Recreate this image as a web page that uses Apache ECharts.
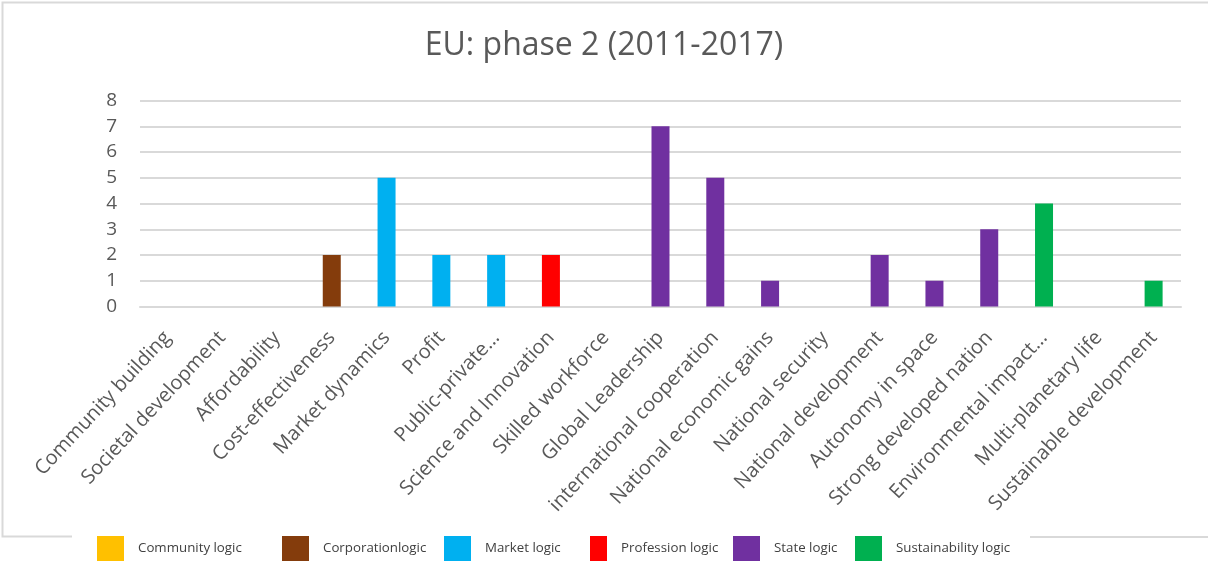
<!DOCTYPE html>
<html>
<head>
<meta charset="utf-8">
<title>EU: phase 2 (2011-2017)</title>
<script src="https://cdn.jsdelivr.net/npm/echarts@6/dist/echarts.min.js"></script>
<style>
  html, body { margin: 0; padding: 0; background: #ffffff; }
  #chart { width: 1208px; height: 561px; }
</style>
</head>
<body>
<div id="chart"></div>
<script>
// Categories along the x axis
const categories = [
  'Community building', 'Societal development', 'Affordability', 'Cost-effectiveness',
  'Market dynamics', 'Profit', 'Public-private…', 'Science and Innovation',
  'Skilled workforce', 'Global Leadership', 'international cooperation',
  'National economic gains', 'National security', 'National development',
  'Autonomy in space', 'Strong developed nation', 'Environmental impact…',
  'Multi-planetary life', 'Sustainable development'
];

// Count per category
const counts = [0, 0, 0, 2, 5, 2, 2, 2, 0, 7, 5, 1, 0, 2, 1, 3, 4, 0, 1];

// Institutional logic each category belongs to
const categoryLogic = [
  'Community logic', 'Community logic', 'Community logic', 'Corporationlogic',
  'Market logic', 'Market logic', 'Market logic', 'Profession logic',
  'Profession logic', 'State logic', 'State logic', 'State logic', 'State logic',
  'State logic', 'State logic', 'State logic', 'Sustainability logic',
  'Sustainability logic', 'Sustainability logic'
];

// Logic names (legend order) and their colours
const logics = ['Community logic', 'Corporationlogic', 'Market logic', 'Profession logic', 'State logic', 'Sustainability logic'];
const logicColors = ['#ffc000', '#843c0c', '#00b0f0', '#ff0000', '#7030a0', '#00b050'];

// Y axis ticks
const yTicks = [0, 1, 2, 3, 4, 5, 6, 7, 8];

const textGrey = '#595959';
const gridGrey = '#d9d9d9';

// One stacked series per logic so each category carries its logic's colour
const series = logics.map((name, i) => ({
  name: name,
  type: 'bar',
  stack: 'logic',
  barWidth: 18,
  itemStyle: { color: logicColors[i] },
  data: counts.map((v, k) => categoryLogic[k] === name ? v : '-')
}));

// Legend item placement along the bottom strip
const legendLeft = [97, 282, 444, 590, 733, 855];
const legendIconW = [27, 27, 27, 17, 27, 27];
const legends = logics.map((name, i) => ({
  data: [{ name: name, icon: 'rect' }],
  left: legendLeft[i],
  top: 536,
  padding: 0,
  itemWidth: legendIconW[i],
  itemHeight: 25,
  selectedMode: false,
  textStyle: {
    fontFamily: 'Open Sans',
    fontSize: 13.3,
    color: '#404040',
    padding: [0, 0, 0, 9]
  }
}));

const chart = echarts.init(document.getElementById('chart'), null, { renderer: 'canvas' });
chart.setOption({
  animation: false,
  backgroundColor: '#ffffff',
  title: {
    text: 'EU: phase 2 (2011-2017)',
    left: 'center',
    top: 25,
    textStyle: { fontFamily: 'Open Sans', fontSize: 32, fontWeight: 'normal', color: textGrey }
  },
  legend: legends,
  grid: { left: 140, right: 27, top: 100.5, bottom: 254.5, containLabel: false },
  xAxis: {
    type: 'category',
    data: categories,
    axisLine: { show: true, lineStyle: { color: gridGrey, width: 2 } },
    axisTick: { show: false },
    axisLabel: {
      interval: 0,
      rotate: 47,
      margin: 28,
      fontFamily: 'Open Sans',
      fontSize: 20,
      color: textGrey
    }
  },
  yAxis: {
    type: 'value',
    min: yTicks[0],
    max: yTicks[yTicks.length - 1],
    interval: 1,
    axisLine: { show: false },
    axisTick: { show: false },
    splitLine: { lineStyle: { color: gridGrey, width: 2 } },
    axisLabel: { margin: 23, fontFamily: 'Open Sans', fontSize: 19, color: textGrey }
  },
  graphic: [
    {
      type: 'polyline',
      silent: true,
      shape: { points: [[72, 536.5], [2.5, 536.5], [2.5, 2.5], [1208, 2.5]] },
      style: { stroke: gridGrey, lineWidth: 2, fill: null }
    },
    {
      type: 'line',
      silent: true,
      shape: { x1: 1030, y1: 537, x2: 1208, y2: 537 },
      style: { stroke: gridGrey, lineWidth: 2 }
    }
  ],
  series: series
});
</script>
</body>
</html>
